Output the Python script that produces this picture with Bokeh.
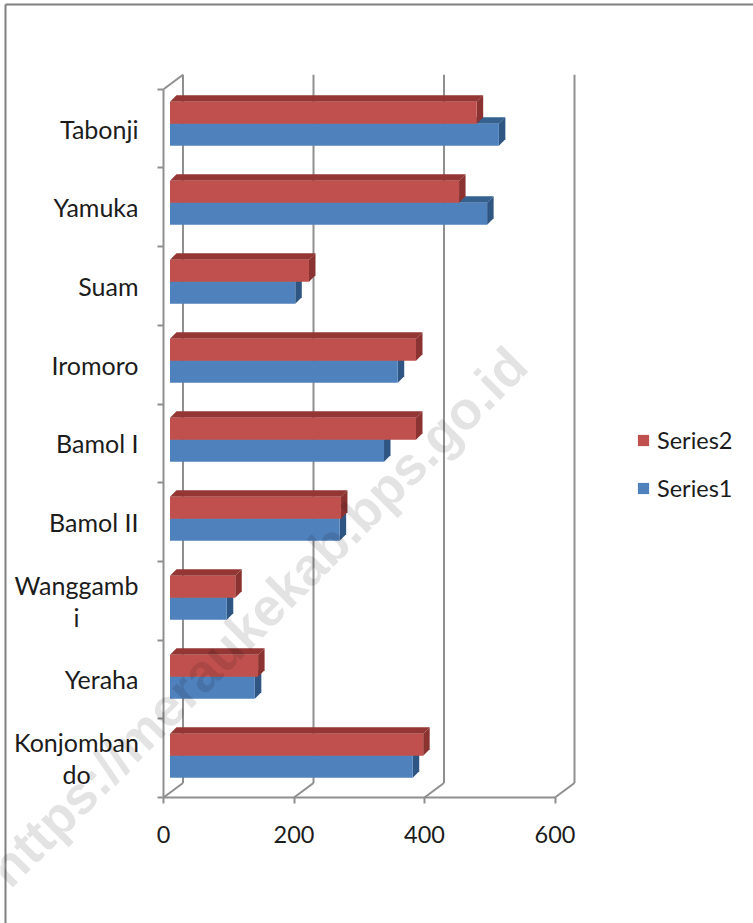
from bokeh.plotting import figure
from bokeh.embed import file_html
from bokeh.resources import INLINE
from bokeh.core.properties import value
from bokeh.models import (FixedTicker, Label, Legend, LegendItem, LinearAxis, Range1d)

# ---- data, bottom category first ----
categories = ["Konjombando", "Yeraha", "Wanggambi", "Bamol II", "Bamol I",
              "Iromoro", "Suam", "Yamuka", "Tabonji"]
category_labels = ["Konjomban\ndo", "Yeraha", "Wanggamb\ni", "Bamol II", "Bamol I",
                   "Iromoro", "Suam", "Yamuka", "Tabonji"]
series1 = [372, 130, 87, 260, 328, 349, 192, 486, 504]
series2 = [388, 135, 100, 262, 377, 377, 213, 443, 470]
x_ticks = [0, 200, 400, 600]

# ---- style ----
FONT = "Lato"
GRAY = "#8f8f8f"
TEXT = "#1c1c1c"
RED, RED_TOP, RED_SIDE = "#C0504D", "#933634", "#8A3331"
BLUE, BLUE_TOP, BLUE_SIDE = "#4F81BD", "#35618F", "#2F5583"

# pixel scales of the chart
PX_X = 0.6525         # px per value unit
PX_Y = 78.7           # px per category
WALL_X, WALL_Y = 19.5 / PX_X, 14.5 / PX_Y
BAR_X, BAR_Y = 6.5 / PX_X, 6.5 / PX_Y
BAR_BASE = 0.25
BAR_H = 0.28
BAR_PITCH = 79 / PX_Y

W, H = 753, 923
LEFT, AXIS_Y = 163, 797


def dx(px):
    return (px - LEFT) / PX_X


def dy(py):
    return (AXIS_Y - py) / PX_Y


p = figure(width=W, height=H, output_backend="svg", toolbar_location=None,
           x_axis_type=None, y_axis_type=None,
           x_range=Range1d(dx(0), dx(W)), y_range=Range1d(dy(H), dy(0)),
           min_border_left=0, min_border_bottom=0, min_border_top=0, min_border_right=0,
           outline_line_color=None, background_fill_color="white")
p.grid.visible = False

# ---- page frame ----
p.segment([dx(5), dx(5)], [dy(4), dy(4)], [dx(W + 5), dx(5)], [dy(4), dy(H + 5)],
          line_color="#808080", line_width=2)

# ---- back wall and floor ----
n = len(categories)
wx = [t + WALL_X for t in x_ticks]
p.segment(wx, [WALL_Y] * 4, wx, [n + WALL_Y] * 4, line_color=GRAY, line_width=2)
p.segment(x_ticks, [0] * 4, wx, [WALL_Y] * 4, line_color=GRAY, line_width=2)
p.segment([0], [n], [WALL_X], [n + WALL_Y], line_color=GRAY, line_width=2)


def bar(values, base, front, top, side):
    y0 = [i * BAR_PITCH + base for i in range(n)]
    y1 = [y + BAR_H for y in y0]
    s = BAR_X
    p.patches([[s, s + BAR_X, v + s + BAR_X, v + s] for v in values],
              [[b, b + BAR_Y, b + BAR_Y, b] for b in y1], fill_color=top, line_color=None)
    p.patches([[v + s, v + s + BAR_X, v + s + BAR_X, v + s] for v in values],
              [[a, a + BAR_Y, b + BAR_Y, b] for a, b in zip(y0, y1)],
              fill_color=side, line_color=None)
    return p.quad(left=[s] * n, right=[v + s for v in values], bottom=y0, top=y1,
                  fill_color=front, line_color=None)


r1 = bar(series1, BAR_BASE, BLUE, BLUE_TOP, BLUE_SIDE)
r2 = bar(series2, BAR_BASE + BAR_H, RED, RED_TOP, RED_SIDE)

# ---- axes ----
xa = LinearAxis(ticker=FixedTicker(ticks=x_ticks), bounds=(0, 600), fixed_location=0)
xa.axis_line_color = GRAY
xa.axis_line_width = 2
xa.major_tick_line_color = GRAY
xa.major_tick_line_width = 2
xa.major_tick_in = 0
xa.major_tick_out = 6
xa.minor_tick_line_color = None
xa.major_label_standoff = 22
xa.major_label_text_font = FONT
xa.major_label_text_font_size = "23.5px"
xa.major_label_text_color = TEXT
p.add_layout(xa, "below")

centers = [i + 0.5 for i in range(n)]
single = {c: t for c, t in zip(centers, category_labels) if "\n" not in t}
wrapped = [(c, t) for c, t in zip(centers, category_labels) if "\n" in t]
ya = LinearAxis(ticker=FixedTicker(ticks=centers, minor_ticks=list(range(n + 1))),
                bounds=(0, n), fixed_location=0)
ya.major_label_overrides = {**single, **{c: "" for c, _ in wrapped}}
ya.axis_line_color = GRAY
ya.axis_line_width = 2
ya.major_tick_line_color = None
ya.major_tick_in = 0
ya.major_tick_out = 0
ya.minor_tick_line_color = GRAY
ya.minor_tick_line_width = 2
ya.minor_tick_in = 0
ya.minor_tick_out = 6
ya.major_label_standoff = 19
ya.major_label_text_font = FONT
ya.major_label_text_font_size = "25px"
ya.major_label_text_color = TEXT
p.add_layout(ya, "left")

# the two wrapped labels have their lines centred on each other
p.text(x=[dx(76)] * len(wrapped), y=[c for c, _ in wrapped], text=[t for _, t in wrapped],
       text_align="center", text_baseline="middle", text_font=value(FONT),
       text_font_size="25px", text_color=TEXT, text_line_height=1.05)

# ---- legend ----
legend = Legend(items=[LegendItem(label="Series2", renderers=[r2]),
                       LegendItem(label="Series1", renderers=[r1])],
                location=(636, 421), orientation="vertical",
                glyph_width=14, glyph_height=14, label_width=60, label_height=22,
                spacing=20, padding=0, margin=0, label_standoff=7,
                label_text_font=FONT, label_text_font_size="23.5px",
                label_text_color=TEXT, border_line_color=None, background_fill_color=None)
p.add_layout(legend, "center")

# ---- watermark ----
p.add_layout(Label(x=dx(257), y=dy(616),
                   text="https://meraukekab.bps.go.id", angle=45, angle_units="deg",
                   text_align="center", text_baseline="middle",
                   text_font="Liberation Sans", text_font_style="bold",
                   text_font_size="53px", text_color="black", text_alpha=0.11))

open("out.html", "w").write(file_html(p, INLINE))
